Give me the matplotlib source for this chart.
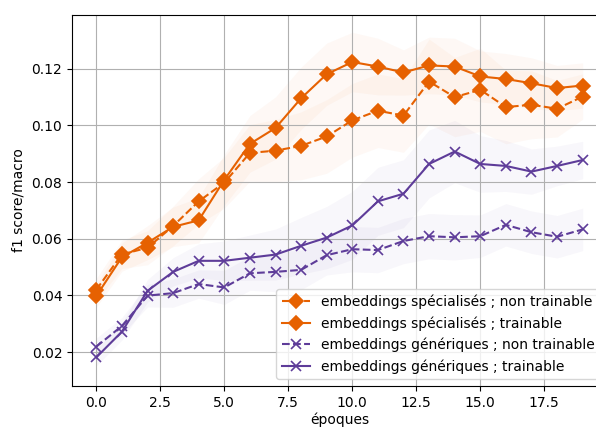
import numpy as np
import matplotlib
matplotlib.use("Agg")
import matplotlib.pyplot as plt

epochs = list(range(20))

spec_train = [0.0398, 0.0535, 0.0586, 0.0642, 0.0665, 0.0808, 0.0935, 0.0991, 0.1096, 0.1181,
              0.1224, 0.1208, 0.1187, 0.1212, 0.1208, 0.1173, 0.1164, 0.1149, 0.1132, 0.1141]
spec_frozen = [0.0420, 0.0545, 0.0568, 0.0645, 0.0732, 0.0798, 0.0903, 0.0911, 0.0928, 0.0961,
               0.1018, 0.1052, 0.1035, 0.1155, 0.1100, 0.1126, 0.1065, 0.1073, 0.1059, 0.1102]
gen_train = [0.0181, 0.0272, 0.0416, 0.0483, 0.0522, 0.0522, 0.0533, 0.0544, 0.0575, 0.0604,
             0.0647, 0.0732, 0.0759, 0.0864, 0.0908, 0.0864, 0.0857, 0.0837, 0.0857, 0.0878]
gen_frozen = [0.0219, 0.0292, 0.0399, 0.0408, 0.0440, 0.0428, 0.0478, 0.0483, 0.0490, 0.0542,
              0.0563, 0.0560, 0.0592, 0.0609, 0.0605, 0.0609, 0.0649, 0.0623, 0.0607, 0.0633]

# confidence-band half widths read from the faint shaded areas
spec_train_hw = [0.004, 0.005, 0.006, 0.007, 0.008, 0.009, 0.010, 0.011, 0.011, 0.011,
                 0.0105, 0.010, 0.008, 0.010, 0.010, 0.009, 0.009, 0.009, 0.008, 0.008]
spec_frozen_hw = [0.004, 0.005, 0.006, 0.007, 0.008, 0.009, 0.010, 0.011, 0.012, 0.013,
                  0.013, 0.013, 0.013, 0.015, 0.014, 0.0147, 0.013, 0.012, 0.010, 0.008]
gen_train_hw = [0.003, 0.003, 0.004, 0.005, 0.006, 0.007, 0.008, 0.009, 0.010, 0.011,
                0.012, 0.012, 0.012, 0.012, 0.011, 0.010, 0.009, 0.008, 0.007, 0.0066]
gen_frozen_hw = [0.003, 0.003, 0.004, 0.005, 0.005, 0.006, 0.006, 0.007, 0.007, 0.007,
                 0.008, 0.008, 0.008, 0.008, 0.008, 0.0075, 0.0075, 0.0075, 0.0075, 0.0075]

labels = ["embeddings spécialisés ; non trainable",
          "embeddings spécialisés ; trainable",
          "embeddings génériques ; non trainable",
          "embeddings génériques ; trainable"]

orange = "#e66101"
purple = "#5e3c99"

fig = plt.figure(figsize=(5.96, 4.28), dpi=100)
ax = fig.add_axes([72 / 596, 1 - 386 / 428, 535 / 596, 371 / 428])

series = [
    (spec_frozen, spec_frozen_hw, orange, "--", "D", 7, labels[0]),
    (spec_train, spec_train_hw, orange, "-", "D", 7, labels[1]),
    (gen_frozen, gen_frozen_hw, purple, "--", "x", 6.5, labels[2]),
    (gen_train, gen_train_hw, purple, "-", "x", 6.5, labels[3]),
]

x = np.array(epochs)
for vals, hw, col, ls, mk, ms, lab in series:
    v = np.array(vals)
    h = np.array(hw)
    ax.fill_between(x, v - h, v + h, color=col, alpha=0.04, linewidth=0)
for vals, hw, col, ls, mk, ms, lab in series:
    ax.plot(x, vals, color=col, linestyle=ls, marker=mk, markersize=ms,
            linewidth=1.5, label=lab, markeredgewidth=1.2)

ax.set_xlim(-0.95, 19.95)
ax.set_ylim(0.008, 0.139)
ax.set_xticks([0.0, 2.5, 5.0, 7.5, 10.0, 12.5, 15.0, 17.5])
ax.set_yticks([0.02, 0.04, 0.06, 0.08, 0.10, 0.12])
ax.grid(True, color="#b0b0b0", linewidth=0.8)
ax.set_xlabel("époques", labelpad=2)
ax.set_ylabel("f1 score/macro")
ax.legend(loc="lower right", fontsize=10)

fig.savefig("out.png", dpi=100)
